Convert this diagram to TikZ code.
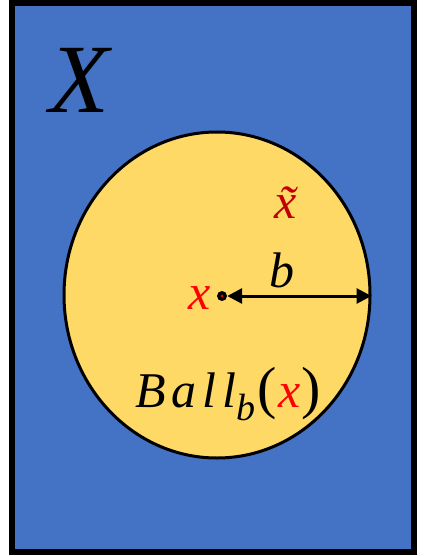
\documentclass[tikz,border=0pt]{standalone}
\usepackage{fontspec}
\setmainfont{Liberation Serif}
\newfontfamily\spacedfont[LetterSpace=12]{Liberation Serif}
\usetikzlibrary{shapes.geometric,arrows.meta}
\definecolor{setblue}{HTML}{4472C4}
\definecolor{ballyellow}{HTML}{FFD966}
\definecolor{ptred}{HTML}{FF0000}
\definecolor{darkred}{HTML}{C00000}
\tikzset{
  lbl/.style={inner sep=0pt, font=\fontsize{50}{52}\selectfont\itshape}
}
\begin{document}
\begin{tikzpicture}[x=1pt,y=-1pt]
\useasboundingbox (0,0) rectangle (423,556);
\fill[white] (0,0) rectangle (423,556);
\node[draw=black, fill=setblue, line width=6pt, inner sep=0pt, minimum width=402pt, minimum height=549pt] (space) at (213,277.5) {};
\node[ellipse, draw=black, fill=ballyellow, line width=3pt, inner sep=0pt, minimum width=306pt, minimum height=326pt] (ball) at (217,295) {};
\node[lbl, font=\fontsize{98}{100}\selectfont\itshape] (X) at (79,80) {X};
\node[circle, fill=black, inner sep=0pt, minimum size=10pt] (dot) at (222,296) {};
\node[circle, fill=ptred, inner sep=0pt, minimum size=3pt] (dotc) at (dot) {};
\coordinate (rim) at (dot -| ball.east);
\draw[line width=3pt, {Triangle[length=15pt,width=15pt]}-{Triangle[length=15pt,width=15pt]}] (dot.east) -- (rim);
\node[lbl, text=ptred] (x) at (200,298) {x};
\node[lbl] (b) at (282,270) {b};
\node[lbl, text=darkred] (xt) at (286,203) {\~{x}};
\node[lbl, font=\fontsize{50}{52}\spacedfont\itshape] (ballname) at (228,394) {Ball\raisebox{-0.25em}{\fontsize{38}{40}\selectfont b}\kern2pt{\fontsize{58}{60}\selectfont\upshape(}\kern1pt\textcolor{ptred}{x}\kern1pt{\fontsize{58}{60}\selectfont\upshape)}};
\end{tikzpicture}
\end{document}
